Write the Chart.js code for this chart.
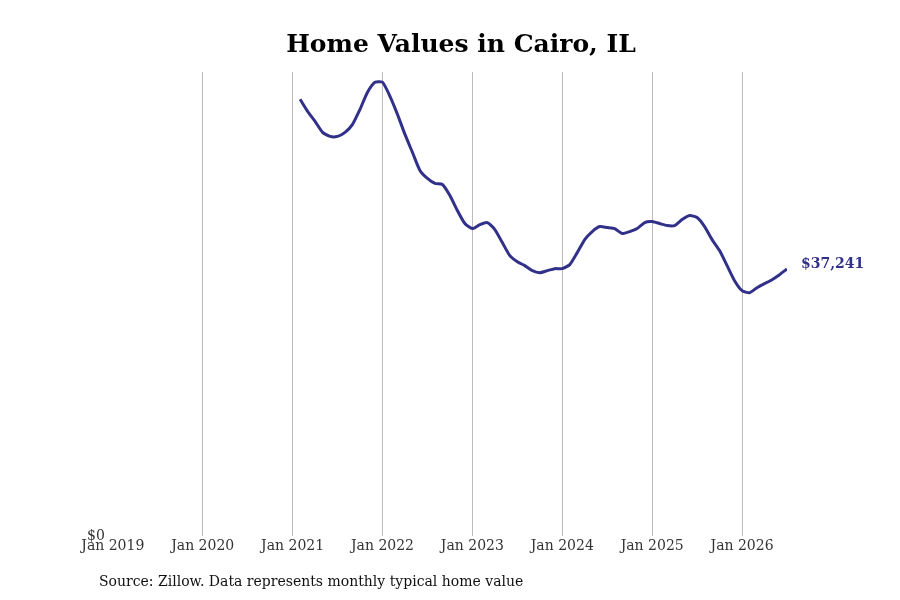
<!DOCTYPE html>
<html>
<head>
<meta charset="utf-8">
<script src="https://cdn.jsdelivr.net/npm/chart.js@4/dist/chart.umd.min.js"></script>
<style>
html,body{margin:0;padding:0;background:#fff;}
#wrap{position:relative;width:900px;height:600px;}
#title{position:absolute;left:0;width:922px;top:29px;text-align:center;font-family:"DejaVu Serif";font-weight:bold;font-size:25px;color:#000;}
#src{position:absolute;left:99px;top:573px;font-family:"DejaVu Serif";font-size:14px;color:#111;}
</style>
</head>
<body>
<div id="wrap">
<canvas id="c" width="900" height="600"></canvas>
<div id="title">Home Values in Cairo, IL</div>
<div id="src">Source: Zillow. Data represents monthly typical home value</div>
</div>
<script>
// months since Jan 2019
const startMonth = 25; // Feb 2021
const values = [
60894,59218,57821,56285,55726,55726,56285,57402,59497,61872,63268,
63268,61313,58799,56006,53492,50978,49860,49162,49022,47486,45391,43575,
42877,43436,43715,42737,40922,39106,38268,37709,37011,36732,37011,37291,
37291,37849,39525,41341,42458,43156,43017,42877,42179,42458,42877,43715,
43855,43575,43296,43296,44134,44693,44413,43156,41341,39804,37709,35615,
34218,33939,34637,35196,35754,36453,37241
];
const tickYears = ['Jan 2019','Jan 2020','Jan 2021','Jan 2022','Jan 2023','Jan 2024','Jan 2025','Jan 2026'];
const points = values.map((v,i)=>({x:startMonth+i,y:v}));
const lineColor = '#32318a';

const endLabel = {
  id:'endLabel',
  afterDatasetsDraw(chart){
    const meta = chart.getDatasetMeta(0);
    const last = meta.data[meta.data.length-1];
    const ctx = chart.ctx;
    ctx.save();
    ctx.font = 'bold 14px "DejaVu Serif"';
    ctx.fillStyle = lineColor;
    ctx.textAlign = 'left';
    ctx.textBaseline = 'middle';
    const v = values[values.length-1];
    ctx.fillText('$'+v.toLocaleString('en-US'), last.x+14, last.y-5);
    ctx.restore();
  }
};

new Chart(document.getElementById('c'),{
  type:'line',
  data:{datasets:[{data:points,borderColor:lineColor,borderWidth:3,pointRadius:0,tension:0.2,fill:false}]},
  options:{
    responsive:false,animation:false,
    layout:{padding:{left:87,right:113,top:72,bottom:43}},
    plugins:{legend:{display:false},tooltip:{enabled:false},title:{display:false}},
    scales:{
      x:{type:'linear',min:0,max:90,
        afterBuildTicks(ax){ax.ticks=tickYears.map((t,i)=>({value:i*12}));},
        ticks:{callback:(v)=>tickYears[v/12],font:{family:'DejaVu Serif',size:14},color:'#333',maxRotation:0,padding:2},
        grid:{color:(c)=>c.index===0?'rgba(0,0,0,0)':'#bbbbbb',drawTicks:false,lineWidth:1},
        border:{display:false}
      },
      y:{min:0,max:64700,
        afterBuildTicks(ax){ax.ticks=[{value:0}];},
        ticks:{callback:(v)=>'$'+v,font:{family:'DejaVu Serif',size:14},color:'#333',padding:0},
        grid:{display:false},border:{display:false}
      }
    }
  },
  plugins:[endLabel]
});
</script>
</body>
</html>
